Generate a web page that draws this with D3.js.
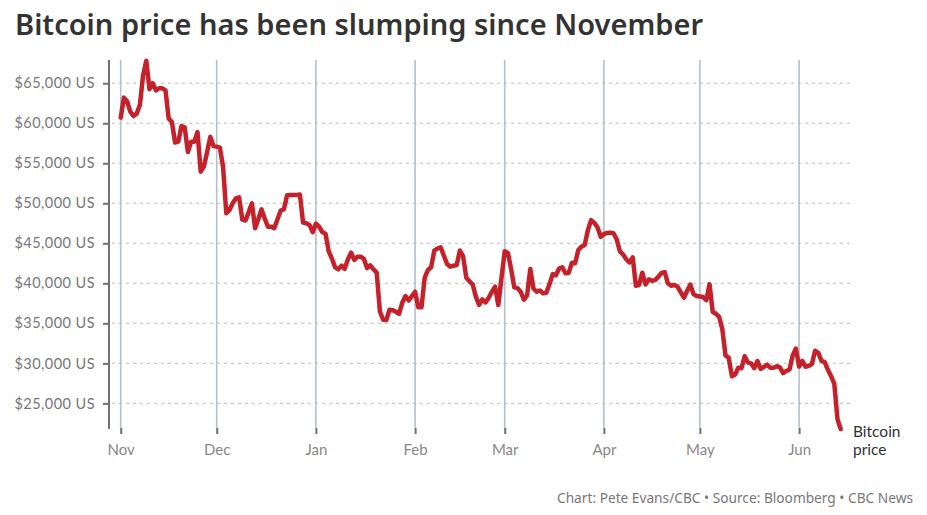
<!DOCTYPE html>
<html>
<head>
<meta charset="utf-8">
<script src="https://cdn.jsdelivr.net/npm/d3@7"></script>
<style>
  html, body { margin: 0; padding: 0; background: #fff; }
  svg { display: block; }
</style>
</head>
<body>
<svg id="chart" width="927" height="515"></svg>
<script>
// ---- Data (daily closes, USD) ----
const startDate = "2021-11-01";
const nov = [60700, 63200, 62750, 61450, 60900, 61200, 62300, 66000, 67800, 64250,
  65000, 64100, 64370, 64370, 64100, 60600, 60150, 57580, 57700, 59650,
  59500, 56400, 57700, 57700, 58900, 53950, 54580, 56400, 58300, 57150];
const dec = [57080, 56950, 54500, 48750, 49150, 50000, 50620, 50750, 47950, 47850,
  48900, 50000, 46875, 48000, 49250, 48100, 47080, 47080, 46900, 48000,
  49100, 49250, 51000, 51040, 51040, 51040, 51100, 47580, 47500, 47300, 46400];
const jan = [47450, 47080, 46400, 46200, 44000, 43100, 42000, 41750, 42200, 41800,
  43000, 43830, 42920, 43330, 43330, 43050, 41900, 42250, 41750, 41330,
  36500, 35450, 35410, 36700, 36650, 36450, 36200, 37600, 38400, 37850, 38400];
const feb = [38950, 37000, 37000, 40700, 41660, 42000, 44080, 44350, 44500, 43450,
  42400, 42080, 42200, 42290, 44100, 43400, 40700, 40250, 39850, 38300,
  37300, 38000, 37600, 38200, 38950, 39580, 37290, 40700];
const mar = [44000, 43800, 41800, 39500, 39400, 38950, 37950, 38500, 41800, 39350,
  38950, 39100, 38750, 38830, 39900, 41150, 41000, 41850, 42000, 41250,
  41300, 42580, 42500, 44160, 44580, 44790, 46650, 47900, 47550, 47000, 45800];
const apr = [46160, 46300, 46330, 46250, 45500, 44000, 43600, 43000, 42600, 43250,
  39700, 39800, 41330, 39850, 40480, 40330, 40400, 40800, 41300, 41400,
  40000, 39700, 39790, 39600, 38900, 38200, 39050, 39850, 38650, 38410];
const may = [38350, 38280, 37900, 39900, 36450, 36200, 35800, 34300, 31000, 30700,
  28400, 28620, 29450, 29400, 30900, 30100, 30000, 29400, 30300, 29300,
  29550, 29850, 29450, 29450, 29650, 29500, 28780, 29050, 29230, 31000, 31850];
const jun = [29600, 30300, 29580, 29680, 29920, 31580, 31300, 30320, 30150, 29200,
  28400, 27450, 23000, 21800];

const yTicks = [25000, 30000, 35000, 40000, 45000, 50000, 55000, 60000, 65000];
const xTickLabels = ["Nov", "Dec", "Jan", "Feb", "Mar", "Apr", "May", "Jun"];
const yDomain = [21800, 67900];

const title = "Bitcoin price has been slumping since November";
const credit = "Chart: Pete Evans/CBC \u2022 Source: Bloomberg \u2022 CBC News";
const seriesLabel = ["Bitcoin", "price"];

// ---- Build series ----
const parse = d3.timeParse("%Y-%m-%d");
const start = parse(startDate);
const values = [].concat(nov, dec, jan, feb, mar, apr, may, jun);
const data = values.map((v, i) => ({ date: d3.timeDay.offset(start, i), value: v }));
const end = data[data.length - 1].date;

// ---- Layout ----
const svg = d3.select("#chart");
const plot = { left: 120.7, right: 840.7, top: 60, bottom: 429 };
const axisX = 109;

const x = d3.scaleTime().domain([start, end]).range([plot.left, plot.right]);
const y = d3.scaleLinear().domain(yDomain).range([plot.bottom, plot.top]);

const fontUI = "Lato, 'Open Sans', sans-serif";

// Title
const t = svg.append("text")
  .attr("x", 15).attr("y", 35)
  .attr("font-family", "'Noto Sans', 'Open Sans', sans-serif")
  .attr("font-weight", 600)
  .attr("font-size", 29)
  .attr("fill", "#333")
  .text(title);
t.attr("textLength", 688).attr("lengthAdjust", "spacingAndGlyphs");

// Horizontal dashed gridlines
svg.append("g").selectAll("line").data(yTicks).join("line")
  .attr("x1", 112).attr("x2", 852)
  .attr("y1", d => y(d)).attr("y2", d => y(d))
  .attr("stroke", "#bdbdbd").attr("stroke-width", 1)
  .attr("stroke-dasharray", "3,4");

// Vertical month gridlines
const months = d3.timeMonth.range(start, d3.timeDay.offset(end, 1));
svg.append("g").selectAll("line").data(months).join("line")
  .attr("x1", d => x(d)).attr("x2", d => x(d))
  .attr("y1", plot.top).attr("y2", 428)
  .attr("stroke", "#b5c1c8").attr("stroke-width", 1.6);

// X axis (ticks + labels)
const xAxis = d3.axisBottom(x)
  .tickValues(months)
  .tickSize(6)
  .tickPadding(10)
  .tickFormat((d, i) => xTickLabels[i]);
const gx = svg.append("g").attr("transform", `translate(0,428)`).call(xAxis);
gx.select(".domain").remove();
gx.selectAll(".tick line").attr("stroke", "#6f6f6f").attr("stroke-width", 2);
gx.selectAll(".tick text")
  .attr("font-family", fontUI).attr("font-size", 15)
  .attr("fill", "#888").attr("dy", "0.72em");

// Y axis
const yAxis = d3.axisLeft(y)
  .tickValues(yTicks)
  .tickSize(6)
  .tickPadding(8)
  .tickFormat(d => "$" + d3.format(",")(d) + " US");
const gy = svg.append("g").attr("transform", `translate(${axisX},0)`).call(yAxis);
gy.select(".domain").remove();
gy.selectAll(".tick line").attr("stroke", "#6f6f6f").attr("stroke-width", 2);
gy.selectAll(".tick text")
  .attr("font-family", fontUI).attr("font-size", 14.5)
  .attr("letter-spacing", 0.45)
  .attr("fill", "#777");
svg.append("line")
  .attr("x1", axisX).attr("x2", axisX)
  .attr("y1", plot.top).attr("y2", plot.bottom)
  .attr("stroke", "#707070").attr("stroke-width", 2);

// Price line
const line = d3.line().x(d => x(d.date)).y(d => y(d.value));
svg.append("path").datum(data)
  .attr("d", line)
  .attr("fill", "none")
  .attr("stroke", "#c4212b")
  .attr("stroke-width", 4.5)
  .attr("stroke-linejoin", "round")
  .attr("stroke-linecap", "round");

// Series label
const lab = svg.append("text")
  .attr("x", 853).attr("y", 437)
  .attr("font-family", fontUI).attr("font-size", 15.5)
  .attr("fill", "#333");
lab.selectAll("tspan").data(seriesLabel).join("tspan")
  .attr("x", 853).attr("dy", (d, i) => i === 0 ? 0 : 17.5)
  .text(d => d);

// Credit
const c = svg.append("text")
  .attr("x", 913).attr("y", 503)
  .attr("text-anchor", "end")
  .attr("font-family", "'Noto Sans', 'Open Sans', sans-serif")
  .attr("font-size", 13.5)
  .attr("fill", "#777")
  .text(credit);
c.attr("textLength", 356).attr("lengthAdjust", "spacingAndGlyphs");
</script>
</body>
</html>
